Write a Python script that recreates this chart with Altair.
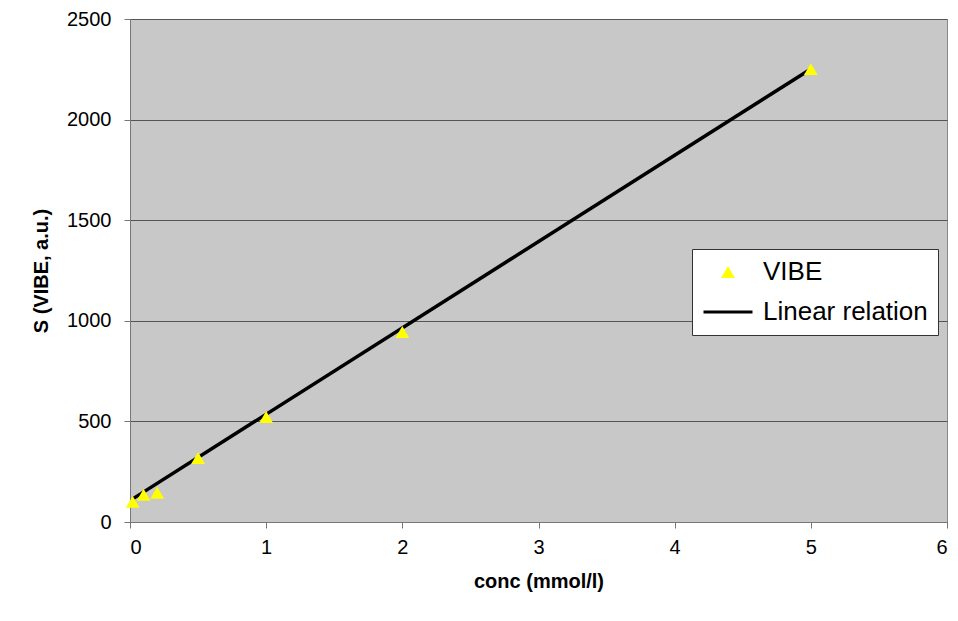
import altair as alt
import pandas as pd

conc = [0.02, 0.1, 0.2, 0.5, 1.0, 2.0, 5.0]
signal = [100, 135, 145, 318, 522, 944, 2251]
fit_conc = [0.02, 5.0]
fit_signal = [115, 2252]
series_names = ["VIBE", "Linear relation"]
x_ticks = [0, 1, 2, 3, 4, 5, 6]
y_ticks = [0, 500, 1000, 1500, 2000, 2500]

pts = pd.DataFrame({"conc": conc, "S": signal, "series": "VIBE"})
fit = pd.DataFrame({"conc": fit_conc, "S": fit_signal, "series": "Linear relation"})

FONT = "Liberation Sans"

xs = alt.Scale(domain=[0, 6], nice=False, zero=False)
ys = alt.Scale(domain=[0, 2500], nice=False)

x_axis = alt.Axis(values=x_ticks, title="conc (mmol/l)", grid=False, labelFontSize=20,
                  titleFontSize=20, titleFontWeight="bold", labelPadding=9, titlePadding=14,
                  tickSize=6, domainColor="#777777", tickColor="#777777", labelColor="black",
                  titleColor="black", labelFont=FONT, titleFont=FONT, format="d")
y_axis = alt.Axis(values=y_ticks, title="S (VIBE, a.u.)", grid=True, gridColor="#555555",
                  gridWidth=1, labelFontSize=20, titleFontSize=20, titleFontWeight="bold",
                  labelPadding=13, titlePadding=15, tickSize=6, domainColor="#777777",
                  tickColor="#777777", labelColor="black", titleColor="black",
                  labelFont=FONT, titleFont=FONT, format="d")

legend = alt.Legend(
    title=None, orient="none", legendX=562, legendY=230,
    fillColor="white", strokeColor="#333333", padding=10,
    labelFontSize=26, labelFont=FONT, labelColor="black", labelLimit=400,
    rowPadding=1, labelOffset=9, symbolStrokeWidth=3, symbolOpacity=1,
)

points = alt.Chart(pts).mark_point(opacity=1, strokeWidth=3).encode(
    x=alt.X("conc:Q", scale=xs, axis=x_axis),
    y=alt.Y("S:Q", scale=ys, axis=y_axis),
    fill=alt.Fill("series:N", scale=alt.Scale(domain=series_names, range=["#FFFF00", "transparent"]), legend=legend),
    stroke=alt.Stroke("series:N", scale=alt.Scale(domain=series_names, range=["transparent", "black"]), legend=legend),
    shape=alt.Shape("series:N", scale=alt.Scale(domain=series_names, range=["triangle-up", "stroke"]), legend=legend),
    size=alt.Size("series:N", scale=alt.Scale(domain=series_names, range=[190, 2400]), legend=legend),
)

line = alt.Chart(fit).mark_line(color="black", strokeWidth=3.5).encode(
    x=alt.X("conc:Q", scale=xs),
    y=alt.Y("S:Q", scale=ys),
)

chart = alt.layer(line, points).properties(
    width=817, height=503,
    autosize=alt.AutoSizeParams(type="none"),
    padding={"left": 130, "top": 19, "right": 11, "bottom": 99},
    background="white",
).configure_view(fill="#C8C8C8", stroke="#888888", strokeWidth=1)

chart.save("out.html", embed_options={"renderer": "svg", "actions": False})
